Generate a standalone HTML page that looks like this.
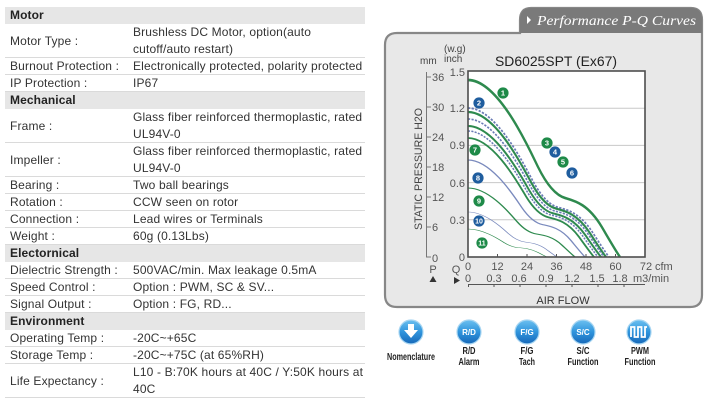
<!DOCTYPE html>
<html><head><meta charset="utf-8">
<style>
html,body{margin:0;padding:0;background:#fff;}
body{width:708px;height:400px;position:relative;overflow:hidden;font-family:"Liberation Sans",Arial,sans-serif;}
.h,.r{position:absolute;left:5px;width:360px;box-sizing:border-box;font-size:12px;letter-spacing:0.15px;color:#333;white-space:nowrap;}
.h{background:#e6e6e6;height:17px;line-height:17px;font-weight:bold;color:#222;padding-left:5px;letter-spacing:0.1px;}
.r{border-bottom:1px solid #dadada;}
.r .l{position:absolute;left:5px;top:0;}
.r .v{position:absolute;left:128px;top:0;line-height:17px;}
.s{height:17px;}
.s .l{line-height:17px;}
.d{height:34px;}
.d .l{line-height:34px;}
svg{position:absolute;left:0;top:0;}
</style></head><body>

<div class="h" style="top:7px">Motor</div>
<div class="r d" style="top:24px"><span class="l">Motor Type :</span><span class="v">Brushless DC Motor, option(auto<br>cutoff/auto restart)</span></div>
<div class="r s" style="top:58px"><span class="l">Burnout Protection :</span><span class="v">Electronically protected, polarity protected</span></div>
<div class="r s" style="top:75px"><span class="l">IP Protection :</span><span class="v">IP67</span></div>
<div class="h" style="top:92px">Mechanical</div>
<div class="r d" style="top:109px"><span class="l">Frame :</span><span class="v">Glass fiber reinforced thermoplastic, rated<br>UL94V-0</span></div>
<div class="r d" style="top:143px"><span class="l">Impeller :</span><span class="v">Glass fiber reinforced thermoplastic, rated<br>UL94V-0</span></div>
<div class="r s" style="top:177px"><span class="l">Bearing :</span><span class="v">Two ball bearings</span></div>
<div class="r s" style="top:194px"><span class="l">Rotation :</span><span class="v">CCW seen on rotor</span></div>
<div class="r s" style="top:211px"><span class="l">Connection :</span><span class="v">Lead wires or Terminals</span></div>
<div class="r s" style="top:228px"><span class="l">Weight :</span><span class="v">60g (0.13Lbs)</span></div>
<div class="h" style="top:245px">Electornical</div>
<div class="r s" style="top:262px"><span class="l">Dielectric Strength :</span><span class="v">500VAC/min. Max leakage 0.5mA</span></div>
<div class="r s" style="top:279px"><span class="l">Speed Control :</span><span class="v">Option : PWM, SC &amp; SV...</span></div>
<div class="r s" style="top:296px"><span class="l">Signal Output :</span><span class="v">Option : FG, RD...</span></div>
<div class="h" style="top:313px">Environment</div>
<div class="r s" style="top:330px"><span class="l">Operating Temp :</span><span class="v">-20C~+65C</span></div>
<div class="r s" style="top:347px"><span class="l">Storage Temp :</span><span class="v">-20C~+75C (at 65%RH)</span></div>
<div class="r d" style="top:364px"><span class="l">Life Expectancy :</span><span class="v">L10 - B:70K hours at 40C / Y:50K hours at<br>40C</span></div>

<svg width="708" height="400" viewBox="0 0 708 400" font-family="Liberation Sans, Arial, sans-serif">
<defs>
 <clipPath id="pc"><rect x="468" y="71" width="177" height="186"/></clipPath>
 <linearGradient id="ig" x1="0" y1="0" x2="0" y2="1">
  <stop offset="0" stop-color="#6cc0f0"/><stop offset="0.5" stop-color="#2f94dc"/><stop offset="1" stop-color="#1768b8"/>
 </linearGradient>
 <path id="t" d="M0,100 C20,100 40,61.5 46,51 C52,40.5 58,34.8 64,33.3 C70,31.8 79,30 88,17 C92,11.2 97.5,3 100,0"/>
</defs>

<!-- panel -->
<path d="M385,45 Q385,33 397,33 H520 V20 Q520,8 531,8 H691 Q702,8 702,20 V295 Q702,307 690,307 H397 Q385,307 385,295 Z" fill="#e8e8e8" stroke="#878787" stroke-width="2.2"/>
<path d="M520,33 V20 Q520,8 531,8 H691 Q702,8 702,20 V33 Z" fill="#7a7a7a"/>
<polygon points="527,16 531,20 527,24" fill="#fff"/>
<text x="537" y="25" font-family="Liberation Serif, serif" font-style="italic" font-size="14" fill="#fff" textLength="159" lengthAdjust="spacingAndGlyphs">Performance P-Q Curves</text>

<!-- titles -->
<text x="495" y="66" font-size="14" fill="#222" textLength="122" lengthAdjust="spacingAndGlyphs">SD6025SPT (Ex67)</text>
<text x="420" y="64" font-size="10" fill="#444">mm</text>
<text x="444" y="52" font-size="10" fill="#444">(w.g)</text>
<text x="444" y="62" font-size="10" fill="#444">inch</text>
<text transform="translate(422,169) rotate(-90)" text-anchor="middle" font-size="11" fill="#444" textLength="122" lengthAdjust="spacingAndGlyphs">STATIC PRESSURE H2O</text>

<!-- plot -->
<rect x="468" y="71" width="177" height="186" fill="#fff"/>
<g stroke="#c8c8c8" stroke-width="1">
 <line x1="468" y1="108.2" x2="645" y2="108.2"/>
 <line x1="468" y1="145.4" x2="645" y2="145.4"/>
 <line x1="468" y1="182.6" x2="645" y2="182.6"/>
 <line x1="468" y1="219.8" x2="645" y2="219.8"/>
</g>
<g clip-path="url(#pc)" fill="none">
 <use href="#t" transform="translate(468 257) scale(1.52 -1.77)" stroke="#2e8a4e" stroke-width="1.5" vector-effect="non-scaling-stroke"/>
 <use href="#t" transform="translate(468 257) scale(1.41 -1.49)" stroke="#6a7bb5" stroke-width="1.2" stroke-dasharray="1.6 1" vector-effect="non-scaling-stroke"/>
 <use href="#t" transform="translate(468 257) scale(1.38 -1.45)" stroke="#2e8a4e" stroke-width="1.5" vector-effect="non-scaling-stroke"/>
 <use href="#t" transform="translate(468 257) scale(1.36 -1.38)" stroke="#6a7bb5" stroke-width="1.2" stroke-dasharray="1.6 1" vector-effect="non-scaling-stroke"/>
 <use href="#t" transform="translate(468 257) scale(1.33 -1.31)" stroke="#2e8a4e" stroke-width="1.5" vector-effect="non-scaling-stroke"/>
 <use href="#t" transform="translate(468 257) scale(1.30 -1.26)" stroke="#6a7bb5" stroke-width="1.2" stroke-dasharray="1.6 1" vector-effect="non-scaling-stroke"/>
 <use href="#t" transform="translate(468 257) scale(1.26 -1.19)" stroke="#2e8a4e" stroke-width="1.5" vector-effect="non-scaling-stroke"/>
 <use href="#t" transform="translate(468 257) scale(1.17 -0.97)" stroke="#7a8abd" stroke-width="1.2" vector-effect="non-scaling-stroke"/>
 <use href="#t" transform="translate(468 257) scale(1.07 -0.69)" stroke="#2e8a4e" stroke-width="1.5" vector-effect="non-scaling-stroke"/>
 <use href="#t" transform="translate(468 257) scale(0.89 -0.45)" stroke="#7a8abd" stroke-width="1.2" vector-effect="non-scaling-stroke"/>
 <use href="#t" transform="translate(468 257) scale(0.79 -0.28)" stroke="#2e8a4e" stroke-width="1.5" vector-effect="non-scaling-stroke"/>
</g>
<rect x="468" y="71" width="177" height="186" fill="none" stroke="#4e4e4e" stroke-width="1.6"/>
<g stroke="#555" stroke-width="1">
 <line x1="497.5" y1="254" x2="497.5" y2="257"/>
 <line x1="527" y1="254" x2="527" y2="257"/>
 <line x1="556.5" y1="254" x2="556.5" y2="257"/>
 <line x1="586" y1="254" x2="586" y2="257"/>
 <line x1="615.5" y1="254" x2="615.5" y2="257"/>
</g>

<!-- curve labels -->
<g font-size="7.5" font-weight="bold" fill="#fff" text-anchor="middle">
 <circle cx="503" cy="93" r="5.6" fill="#1e8a48"/><text x="503" y="95.7">1</text>
 <circle cx="479" cy="103" r="5.6" fill="#1f5d9e"/><text x="479" y="105.7">2</text>
 <circle cx="547" cy="143" r="5.6" fill="#1e8a48"/><text x="547" y="145.7">3</text>
 <circle cx="555" cy="152" r="5.6" fill="#1f5d9e"/><text x="555" y="154.7">4</text>
 <circle cx="563" cy="162" r="5.6" fill="#1e8a48"/><text x="563" y="164.7">5</text>
 <circle cx="572" cy="173" r="5.6" fill="#1f5d9e"/><text x="572" y="175.7">6</text>
 <circle cx="475" cy="150" r="5.6" fill="#1e8a48"/><text x="475" y="152.7">7</text>
 <circle cx="478" cy="178" r="5.6" fill="#1f5d9e"/><text x="478" y="180.7">8</text>
 <circle cx="479" cy="201" r="5.6" fill="#1e8a48"/><text x="479" y="203.7">9</text>
 <circle cx="479" cy="221" r="5.6" fill="#1f5d9e"/><text x="479" y="223.7" font-size="7">10</text>
 <circle cx="482" cy="243" r="5.6" fill="#1e8a48"/><text x="482" y="245.7" font-size="7">11</text>
</g>

<!-- inch axis labels -->
<g font-size="11" fill="#555" text-anchor="end">
 <text x="465" y="76">1.5</text>
 <text x="465" y="112">1.2</text>
 <text x="465" y="149">0.9</text>
 <text x="465" y="187">0.6</text>
 <text x="465" y="224">0.3</text>
 <text x="465" y="261">0</text>
</g>
<!-- mm axis -->
<g stroke="#777" stroke-width="1">
 <line x1="426.5" y1="72" x2="426.5" y2="257.5"/>
 <line x1="426" y1="77" x2="431" y2="77"/>
 <line x1="426" y1="107" x2="431" y2="107"/>
 <line x1="426" y1="137" x2="431" y2="137"/>
 <line x1="426" y1="167" x2="431" y2="167"/>
 <line x1="426" y1="197" x2="431" y2="197"/>
 <line x1="426" y1="227" x2="431" y2="227"/>
 <line x1="426" y1="257" x2="431" y2="257"/>
</g>
<g font-size="11" fill="#555">
 <text x="432" y="81">36</text>
 <text x="432" y="111">30</text>
 <text x="432" y="141">24</text>
 <text x="432" y="171">18</text>
 <text x="432" y="201">12</text>
 <text x="432" y="231">6</text>
 <text x="432" y="262">0</text>
</g>

<!-- x axis labels -->
<g font-size="11" fill="#555" text-anchor="middle">
 <text x="468" y="270">0</text>
 <text x="497.5" y="270">12</text>
 <text x="527" y="270">24</text>
 <text x="556.5" y="270">36</text>
 <text x="586" y="270">48</text>
 <text x="615.5" y="270">60</text>
 <text x="646" y="270">72</text>
 <text x="468" y="282">0</text>
 <text x="494" y="282">0.3</text>
 <text x="519" y="282">0.6</text>
 <text x="546" y="282">0.9</text>
 <text x="572" y="282">1.2</text>
 <text x="597" y="282">1.5</text>
 <text x="620" y="282">1.8</text>
</g>
<text x="655" y="270" font-size="11" fill="#555">cfm</text>
<text x="633" y="282" font-size="11" fill="#555">m3/min</text>
<text x="433" y="273" font-size="11" fill="#555" text-anchor="middle">P</text>
<polygon points="433,276 436.5,282 429.5,282" fill="#333"/>
<text x="456" y="273" font-size="11" fill="#555" text-anchor="middle">Q</text>
<polygon points="454,277 460,280.5 454,284" fill="#333"/>
<g stroke="#555" stroke-width="1">
 <line x1="468" y1="284.5" x2="645" y2="284.5"/>
 <line x1="468.5" y1="284" x2="468.5" y2="287"/>
 <line x1="494" y1="284" x2="494" y2="287"/>
 <line x1="520" y1="284" x2="520" y2="287"/>
 <line x1="546" y1="284" x2="546" y2="287"/>
 <line x1="572" y1="284" x2="572" y2="287"/>
 <line x1="598" y1="284" x2="598" y2="287"/>
 <line x1="624" y1="284" x2="624" y2="287"/>
</g>
<text x="563" y="304" font-size="11" fill="#333" text-anchor="middle">AIR FLOW</text>

<!-- icons -->
<g>
 <circle cx="411" cy="332" r="12" fill="url(#ig)" stroke="#a8d6f2" stroke-width="1.2"/>
 <path d="M408,324 h6 v6 h4 l-7,8 l-7,-8 h4 z" fill="#fff"/>
 <circle cx="469" cy="332" r="12" fill="url(#ig)" stroke="#a8d6f2" stroke-width="1.2"/>
 <circle cx="527" cy="332" r="12" fill="url(#ig)" stroke="#a8d6f2" stroke-width="1.2"/>
 <circle cx="583" cy="332" r="12" fill="url(#ig)" stroke="#a8d6f2" stroke-width="1.2"/>
 <circle cx="639" cy="332" r="12" fill="url(#ig)" stroke="#a8d6f2" stroke-width="1.2"/>
 <path d="M631,337 V327 H634.5 V337 H638 V327 H641.5 V337 H645 V327 H647" fill="none" stroke="#fff" stroke-width="1.8"/>
 <g font-size="8" font-weight="bold" fill="#fff" text-anchor="middle">
  <text x="469" y="335">R/D</text>
  <text x="527" y="335">F/G</text>
  <text x="583" y="335">S/C</text>
 </g>
 <g font-size="10" font-weight="bold" fill="#222" text-anchor="middle">
  <text x="411" y="360" textLength="48" lengthAdjust="spacingAndGlyphs">Nomenclature</text>
  <text x="469" y="354" textLength="13" lengthAdjust="spacingAndGlyphs">R/D</text>
  <text x="469" y="365" textLength="21" lengthAdjust="spacingAndGlyphs">Alarm</text>
  <text x="527" y="354" textLength="13" lengthAdjust="spacingAndGlyphs">F/G</text>
  <text x="527" y="365" textLength="16" lengthAdjust="spacingAndGlyphs">Tach</text>
  <text x="583" y="354" textLength="13" lengthAdjust="spacingAndGlyphs">S/C</text>
  <text x="583" y="365" textLength="31" lengthAdjust="spacingAndGlyphs">Function</text>
  <text x="640" y="354" textLength="18" lengthAdjust="spacingAndGlyphs">PWM</text>
  <text x="640" y="365" textLength="31" lengthAdjust="spacingAndGlyphs">Function</text>
 </g>
</g>
</svg>
</body></html>
